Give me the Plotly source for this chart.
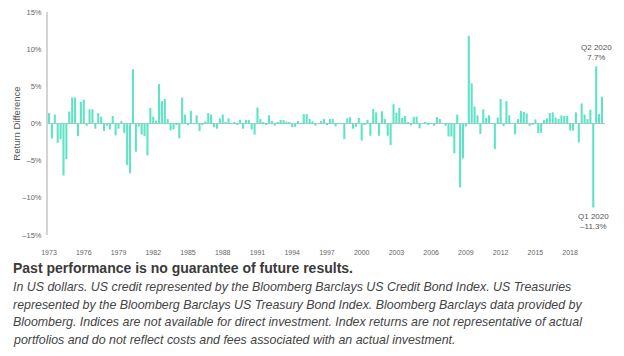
import plotly.graph_objects as go

# Quarterly return difference (US credit minus US Treasuries), %, 1973 Q1 .. 2020 Q4
values = [
    1.4, -2.0, 1.2, -2.6, -2.1, -7.0, -4.8, 1.6, 3.5, 3.5, -1.7, 2.9,
    3.2, -0.3, 1.9, 1.9, -0.7, 1.4, 0.9, -1.0, -0.3, -0.8, 1.0, -1.6,
    -0.7, 0.3, -1.3, -5.6, -6.7, 7.3, -3.8, -0.4, -1.5, -1.7, -4.3, 2.1,
    0.9, 0.4, 5.3, 3.0, 3.3, 0.6, -0.9, -0.8, -0.2, -2.0, 3.5, 1.2,
    -0.1, 1.7, 0.05, 1.1, -1.0, -0.1, 0.3, 1.4, 1.2, -0.5, -0.7, 0.7,
    1.2, 0.2, 0.7, 0.05, 0.1, -0.2, 0.5, -0.7, 0.5, 0.5, -0.8, -1.5,
    2.15, 0.6, 0.2, -0.2, 1.1, 0.35, -0.3, 0.2, 0.5, 0.45, 0.25, 0.2,
    -0.5, -0.45, 0.35, 0.05, 1.25, 1.25, 0.6, 0.3, -0.3, 0.05, 0.35, 0.6,
    -0.1, 0.6, 0.6, -0.4, 0.05, 0.05, -2.1, 0.7, 0.85, -0.7, -0.45, 0.75,
    -2.3, -0.2, 0.5, -1.65, 1.95, 1.5, -1.65, 1.65, 0.6, -1.65, -2.9, 2.6,
    1.45, 2.1, 0.75, 1.0, 0.2, -0.25, 0.9, 0.9, -0.65, 0.05, 0.1, -0.2,
    0.05, -0.3, 0.85, 0.6, 0.05, -0.3, -1.75, -1.75, -4.0, 1.2, -8.6, -4.7,
    -0.4, 11.8, 5.4, 2.3, 1.1, -1.4, 1.9, 0.75, 1.1, 0.05, -3.45, 0.8,
    3.3, -0.35, 3.0, 1.1, 0.05, -1.45, 0.6, 1.7, 1.55, 1.35, -0.3, -0.15,
    0.55, -1.3, -1.25, 0.45, 0.7, 1.4, 1.5, 0.8, 0.6, 1.1, 1.0, 1.0,
    -0.95, -0.95, 1.5, -2.55, 2.7, 1.2, 0.6, 1.85, -11.3, 7.7, 1.3, 3.6,
]

years = list(range(1973, 2021))
quarters = ["Q1", "Q2", "Q3", "Q4"]
categories = [f"{q} {y}" for y in years for q in quarters]

tick_years = [1973, 1976, 1979, 1982, 1985, 1988, 1991, 1994, 1997,
              2000, 2003, 2006, 2009, 2012, 2015, 2018]
tick_vals = [f"Q1 {y}" for y in tick_years]
tick_text = [str(y) for y in tick_years]

y_tick_vals = [15, 10, 5, 0, -5, -10, -15]
y_tick_text = ["15%", "10%", "5%", "0%", "–5%", "–10%", "–15%"]

callouts = [
    ("Q2 2020", 7.7, "Q2 2020<br>7.7%", "bottom", 2),
    ("Q1 2020", -11.3, "Q1 2020<br>–11.3%", "top", -2),
]

footer_bold = "Past performance is no guarantee of future results."
footer_lines = [
    "In US dollars. US credit represented by the Bloomberg Barclays US Credit Bond Index. US Treasuries",
    "represented by the Bloomberg Barclays US Treasury Bond Index. Bloomberg Barclays data provided by",
    "Bloomberg. Indices are not available for direct investment. Index returns are not representative of actual",
    "portfolios and do not reflect costs and fees associated with an actual investment.",
]

BAR = "#5fe3c6"
OFF = 8  # default page body margin
W, H = 624 - OFF, 356 - OFF
L, R, T, B = 48 - OFF, 19, 12 - OFF, 121
PW, PH = W - L - R, H - T - B

fig = go.Figure(go.Bar(x=categories, y=values, marker_color=BAR,
                       marker_line_width=0, width=0.72))

annotations = []
for cat, val, txt, anchor, shift in callouts:
    annotations.append(dict(x=cat, y=val, xref="x", yref="y", text=txt,
                            showarrow=False, yanchor=anchor, yshift=shift,
                            font=dict(family="Liberation Sans", size=8, color="#555"),
                            align="center"))

def px_x(page_px):
    return (page_px - OFF - L) / PW

def px_y(page_py):
    return (T + PH - (page_py - OFF)) / PH

annotations.append(dict(x=px_x(11), y=px_y(268), xref="paper", yref="paper",
                        text=f"<b>{footer_bold}</b>", showarrow=False,
                        xanchor="left", yanchor="middle",
                        font=dict(family="Liberation Sans", size=14, color="#3a3a3a")))
for k, line in enumerate(footer_lines):
    annotations.append(dict(x=px_x(11), y=px_y(287 + k * 17.5), xref="paper", yref="paper",
                            text=f"<i>{line}</i>", showarrow=False,
                            xanchor="left", yanchor="middle",
                            font=dict(family="Liberation Sans", size=12.4, color="#444")))

fig.update_layout(
    width=W, height=H,
    margin=dict(l=L, r=R, t=T, b=B, pad=0, autoexpand=False),
    paper_bgcolor="white", plot_bgcolor="white",
    showlegend=False,
    bargap=0.28,
    xaxis=dict(type="category", range=[-0.35, 192.05], showgrid=False,
               automargin=False,
               showline=False, zeroline=False, ticks="",
               tickmode="array", tickvals=tick_vals, ticktext=tick_text,
               tickangle=0, ticklabelstandoff=12,
               tickfont=dict(family="Liberation Sans", size=7, color="#666")),
    yaxis=dict(range=[-15, 15], showgrid=False, automargin=False,
               showline=True, linecolor="#d4d4d4", linewidth=2,
               zeroline=True, zerolinecolor="#c0c0c0", zerolinewidth=1,
               ticks="", tickmode="array", tickvals=y_tick_vals, ticktext=y_tick_text,
               tickfont=dict(family="Liberation Sans", size=7.5, color="#666"),
               ticklabelstandoff=3, ticklabeloverflow="allow",
               title=dict(text="Return Difference", standoff=0,
                          font=dict(family="Liberation Sans", size=9.5, color="#555"))),
    annotations=annotations,
)

fig.write_html("out.html")
